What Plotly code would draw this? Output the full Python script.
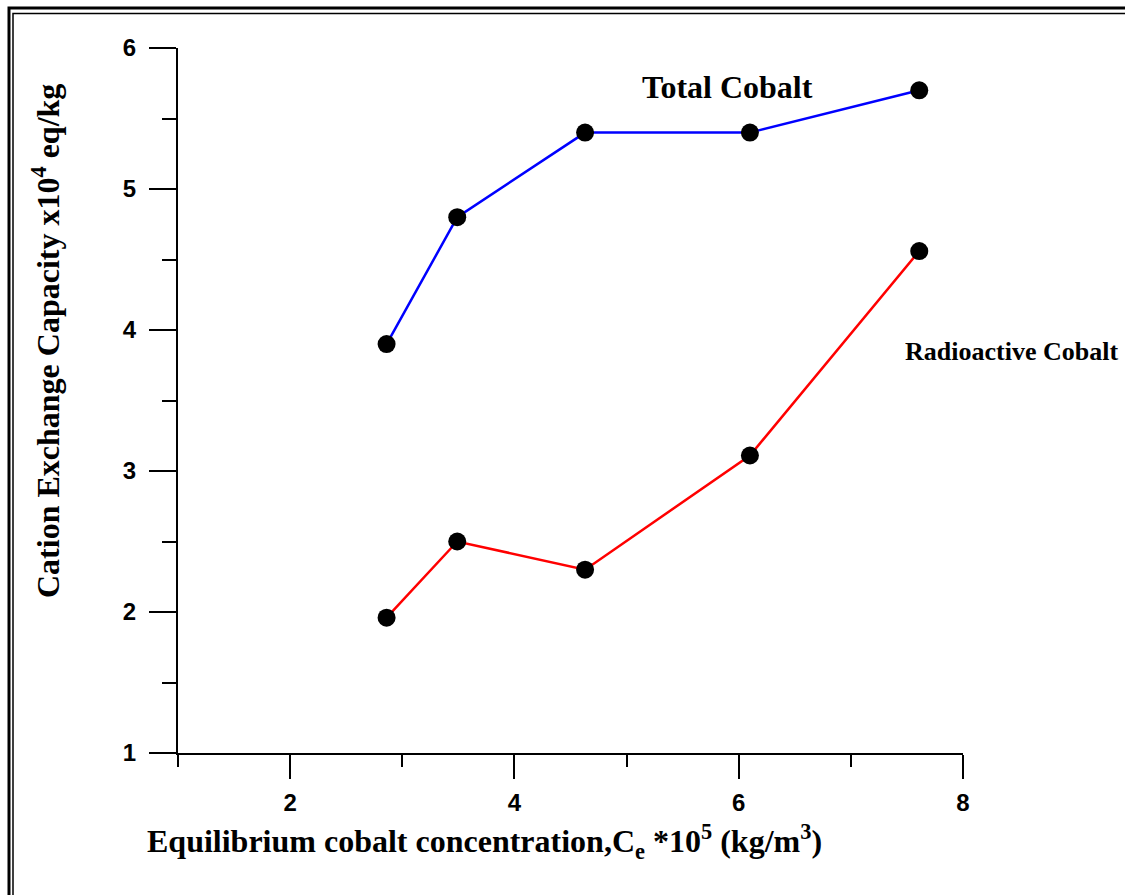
import plotly.graph_objects as go

# Data
conc = [2.86, 3.49, 4.63, 6.10, 7.61]          # Ce * 10^5 (kg/m^3)
total_cobalt = [3.90, 4.80, 5.40, 5.40, 5.70]  # Total Cobalt
radio_cobalt = [1.96, 2.50, 2.30, 3.11, 4.56]  # Radioactive Cobalt

x_ticks = [2, 4, 6, 8]
y_ticks = [1, 2, 3, 4, 5, 6]

W, H = 1125, 895
L, R, T, B = 178, 162, 48, 142
PW, PH = W - L - R, H - T - B


def px_x(p):
    return (p - L) / PW


def px_y(p):
    return (H - B - p) / PH


fig = go.Figure()
fig.add_trace(go.Scatter(
    x=conc, y=total_cobalt, mode="lines+markers", name="Total Cobalt",
    line=dict(color="#0000ff", width=2.5),
    marker=dict(color="black", size=18), cliponaxis=False))
fig.add_trace(go.Scatter(
    x=conc, y=radio_cobalt, mode="lines+markers", name="Radioactive Cobalt",
    line=dict(color="#ff0000", width=2.5),
    marker=dict(color="black", size=18), cliponaxis=False))

tickfont = dict(family="Liberation Sans", size=24, color="black", weight="bold")
title_font = dict(family="Liberation Serif", size=32, color="black", weight="bold")

fig.update_layout(
    width=W, height=H,
    margin=dict(l=L, r=R, t=T, b=B),
    paper_bgcolor="white", plot_bgcolor="white",
    showlegend=False,
    xaxis=dict(
        range=[1, 8], showline=True, linecolor="black", linewidth=2,
        showgrid=False, zeroline=False,
        ticks="outside", ticklen=24, tickwidth=2, tickcolor="black",
        tickmode="array", tickvals=x_ticks, ticktext=[str(v) for v in x_ticks],
        tickfont=tickfont, ticklabelstandoff=3,
        minor=dict(ticks="outside", dtick=1, tick0=1, ticklen=12,
                   tickwidth=2, tickcolor="black", showgrid=False),
    ),
    yaxis=dict(
        range=[1, 6], showline=True, linecolor="black", linewidth=2,
        showgrid=False, zeroline=False,
        ticks="outside", ticklen=27, tickwidth=2, tickcolor="black",
        tickmode="array", tickvals=y_ticks, ticktext=[str(v) for v in y_ticks],
        tickfont=tickfont, ticklabelstandoff=8,
        minor=dict(ticks="outside", dtick=0.5, tick0=1, ticklen=14,
                   tickwidth=2, tickcolor="black", showgrid=False),
    ),
)

annotations = [
    dict(text="Total Cobalt", x=px_x(727.5), y=px_y(87),
         font=dict(family="Liberation Serif", size=32, color="black", weight="bold")),
    dict(text="Radioactive Cobalt", x=px_x(1011), y=px_y(352),
         font=dict(family="Liberation Serif", size=26, color="black", weight="bold")),
    dict(text="Equilibrium cobalt concentration,C<sub>e</sub> *10<sup>5</sup> (kg/m<sup>3</sup>)",
         x=px_x(484), y=px_y(841), font=title_font),
    dict(text="Cation Exchange Capacity x10<sup>4</sup> eq/kg",
         x=px_x(46), y=px_y(341), textangle=-90, font=title_font),
]
for a in annotations:
    fig.add_annotation(xref="paper", yref="paper", showarrow=False,
                       xanchor="center", yanchor="middle", **a)

# Double frame around the figure (cropped at right and bottom)
fig.add_shape(type="rect", xref="paper", yref="paper",
              x0=px_x(9), x1=px_x(1140), y0=px_y(910), y1=px_y(8),
              line=dict(color="black", width=3), fillcolor="rgba(0,0,0,0)", layer="below")
fig.add_shape(type="rect", xref="paper", yref="paper",
              x0=px_x(13), x1=px_x(1140), y0=px_y(910), y1=px_y(13.5),
              line=dict(color="black", width=1.5), fillcolor="rgba(0,0,0,0)", layer="below")

fig.write_html("out.html")
